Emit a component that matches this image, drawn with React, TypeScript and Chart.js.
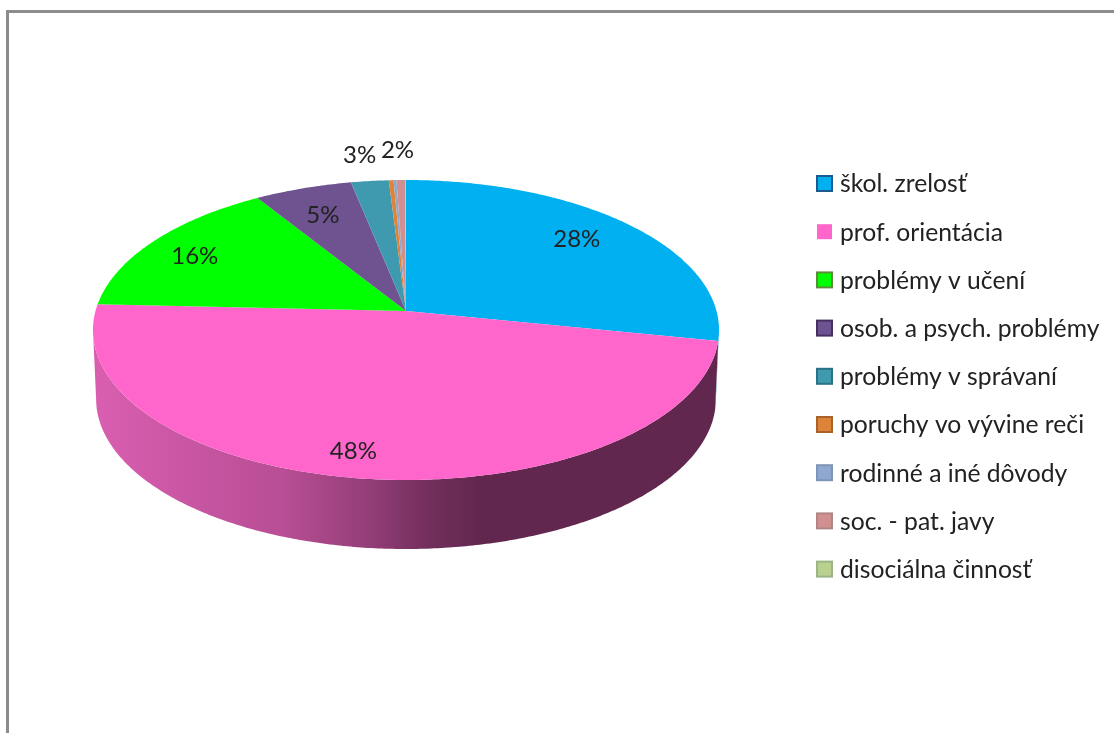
import React, { useEffect, useRef } from "react";
import { Chart, registerables } from "chart.js";

Chart.register(...registerables);

const categories = ["škol. zrelosť", "prof. orientácia", "problémy v učení", "osob. a psych. problémy", "problémy v správaní", "poruchy vo vývine reči", "rodinné a iné dôvody", "soc. - pat. javy", "disociálna činnosť"];
const shares = [28.2, 47.6, 15.4, 5.7, 2.2, 0.28, 0.17, 0.5, 0.05];
const sliceLabels = ["28%", "48%", "16%", "5%", "3%", "2%", "", "", ""];
const fills = ["#00b0f0", "#ff66cc", "#00ff00", "#6f5290", "#3f9ab0", "#dd8439", "#8fa8d0", "#d19090", "#b9d08f"];
const edges = ["#1f5a8c", "", "#5f8a3a", "#45305f", "#2a7286", "#a8632a", "#7f95b5", "#b08585", "#9ab587"];

// Perspective of the tilted disc
const APEX_X = 406, APEX_Y = 311, SPREAD_X = 310.5, SPREAD_Y = 147.6, PERSPECTIVE = 0.1267, DEPTH = 69;

// Label placement: [radius fraction, angle nudge in degrees]
const labelPlace: [number, number][] = [[0.784, -2.3], [0.862, 3.1], [0.814, -1.6], [0.764, -0.7], [1.23, -0.5], [1.266, 1.65]];

// Legend geometry
const LEGEND_X = 817, LEGEND_Y = 183.5, LEGEND_FONT = 24.7, LEGEND_GAP = 23.5, SWATCH = 15;

function project(angle: number, f: number, down = 0) {
  const u = Math.cos(angle) * f;
  const v = -Math.sin(angle) * f;
  const w = 1 + PERSPECTIVE * v;
  return { x: APEX_X + (SPREAD_X * u) / w, y: APEX_Y - (SPREAD_Y * v) / w + down };
}

const perspectivePie = {
  id: "perspectivePie",
  beforeDraw(chart: any) {
    const legend = chart.legend;
    legend.left = LEGEND_X - LEGEND_GAP;
    legend.top = LEGEND_Y + 1 - LEGEND_FONT / 2 - LEGEND_GAP;
  },
  beforeDatasetDraw(chart: any) {
    const ctx = chart.ctx;
    const arcs = chart.getDatasetMeta(0).data;
    const step = 0.01;
    const sample = (a0: number, a1: number) => {
      const out: number[] = [];
      for (let a = a0; a < a1; a += step) out.push(a);
      out.push(a1);
      return out;
    };
    // side walls: only the front part of the rim, between the disc's widest points
    const rimFrom = Math.asin(PERSPECTIVE);
    const rimTo = Math.PI - rimFrom;
    const wallShades: [number, string][][] = [
      [[0, "#2f7a9e"], [1, "#2f7a9e"]],
      [[0, "#d95eb0"], [0.3, "#b84e95"], [0.45, "#8f3c74"], [0.535, "#722e5c"], [0.62, "#62274e"], [1, "#62274e"]],
    ];
    [0, 1].forEach((i) => {
      const arc = arcs[i];
      const a0 = Math.max(arc.startAngle, rimFrom);
      const a1 = Math.min(arc.endAngle, rimTo);
      if (a0 >= a1) return;
      const pts = sample(a0, a1);
      const g = ctx.createLinearGradient(97, 0, 719, 0);
      wallShades[i].forEach(([o, c]) => g.addColorStop(o, c));
      ctx.beginPath();
      pts.forEach((a, k) => {
        const p = project(a, 1);
        k ? ctx.lineTo(p.x, p.y) : ctx.moveTo(p.x, p.y);
      });
      pts.slice().reverse().forEach((a) => {
        const p = project(a, 1, DEPTH);
        ctx.lineTo(APEX_X + (p.x - APEX_X) * 0.99, p.y);
      });
      ctx.closePath();
      ctx.fillStyle = g;
      ctx.fill();
    });
    // top faces
    arcs.forEach((arc: any, i: number) => {
      ctx.beginPath();
      ctx.moveTo(APEX_X, APEX_Y);
      sample(arc.startAngle, arc.endAngle).forEach((a) => {
        const p = project(a, 1);
        ctx.lineTo(p.x, p.y);
      });
      ctx.closePath();
      ctx.fillStyle = fills[i];
      ctx.fill();
    });
    // labels
    ctx.font = "24px Lato";
    ctx.fillStyle = "#222222";
    ctx.textAlign = "center";
    ctx.textBaseline = "middle";
    sliceLabels.forEach((text, i) => {
      if (!text) return;
      const [f, nudge] = labelPlace[i];
      const arc = arcs[i];
      const mid = (arc.startAngle + arc.endAngle) / 2 + (nudge * Math.PI) / 180;
      const p = project(mid, f);
      ctx.fillText(text, p.x, p.y);
    });
    return false;
  },
  afterDraw(chart: any) {
    // legend swatches with their own border treatment
    const ctx = chart.ctx;
    const rowHeight = LEGEND_FONT + LEGEND_GAP;
    categories.forEach((_, i) => {
      const top = LEGEND_Y - SWATCH / 2 + i * rowHeight;
      ctx.fillStyle = fills[i];
      ctx.fillRect(LEGEND_X, top, SWATCH, SWATCH);
      if (edges[i]) {
        ctx.strokeStyle = edges[i];
        ctx.lineWidth = 2;
        ctx.strokeRect(LEGEND_X, top, SWATCH, SWATCH);
      }
    });
  },
};

export default function App() {
  const ref = useRef<HTMLCanvasElement>(null);
  useEffect(() => {
    const chart = new Chart(ref.current as HTMLCanvasElement, {
      type: "pie",
      data: {
        labels: categories,
        datasets: [{ data: shares, backgroundColor: fills, borderWidth: 0 }],
      },
      options: {
        responsive: false,
        animation: false,
        plugins: {
          tooltip: { enabled: false },
          legend: {
            position: "right",
            align: "start",
            labels: {
              boxWidth: 10.65,
              boxHeight: 10,
              padding: LEGEND_GAP,
              color: "#222222",
              font: { family: "Lato", size: LEGEND_FONT },
              generateLabels(chart: any) {
                return (Chart as any).overrides.pie.plugins.legend.labels
                  .generateLabels(chart)
                  .map((item: any) => ({ ...item, fillStyle: "rgba(0,0,0,0)", strokeStyle: "rgba(0,0,0,0)", lineWidth: 0 }));
              },
            },
          },
        },
      },
      plugins: [perspectivePie],
    } as any);
    return () => chart.destroy();
  }, []);
  return (
    <div style={{ position: "fixed", left: 0, top: 0, width: 1114, height: 733, background: "#fff", overflow: "hidden" }}>
      <canvas ref={ref} width={1114} height={733} style={{ display: "block" }} />
      <div style={{ position: "absolute", left: 6, top: 10, right: 0, bottom: 0, borderTop: "3px solid #8c8c8c", borderLeft: "3px solid #8c8c8c" }} />
    </div>
  );
}
